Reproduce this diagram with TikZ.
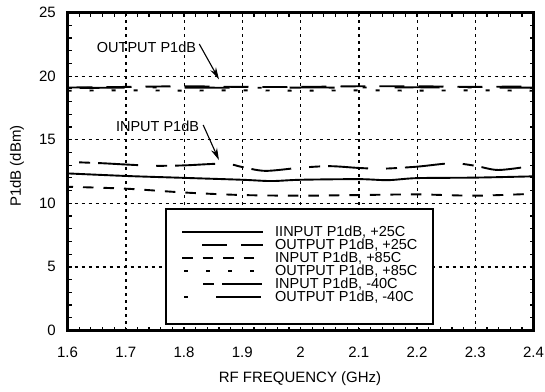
\documentclass[tikz,border=0pt]{standalone}
\usepackage{fontspec}
\setmainfont{Liberation Sans}
\usetikzlibrary{arrows.meta}
\tikzset{
  lbl/.style={font=\fontsize{15}{15}\selectfont, inner sep=0pt},
  txt/.style={font=\fontsize{14.5}{14.5}\selectfont, inner sep=0pt},
  gridln/.style={line width=1.2pt, dash pattern=on 3pt off 4pt},
  frameln/.style={line width=2.4pt},
  tickln/.style={line width=1.2pt},
  curve/.style={line width=1.9pt, line cap=butt, line join=round},
  cin25/.style={curve},
  cout25/.style={curve, dash pattern=on 25pt off 14pt},
  cin85/.style={curve, dash pattern=on 10.5pt off 10pt},
  cout85/.style={curve, dash pattern=on 4pt off 18pt},
  cin40/.style={curve, dash pattern=on 11pt off 8pt on 40pt off 18pt},
  cout40/.style={curve, dash pattern=on 4pt off 28pt on 45pt off 28pt},
  annot/.style={line width=1.1pt, -{Stealth[length=12pt, width=6.5pt]}},
}
\begin{document}
\begin{tikzpicture}[x=1pt, y=-1pt]
\useasboundingbox (0,0) rectangle (545,391);
\fill[white] (0,0) rectangle (545,391);
\begin{scope}[shift={(-864.5,330.5)}, x=582.5pt, y=12.72pt]
  % grid
  \foreach \f in {1.7,1.8,1.9,2.0,2.1,2.2,2.3}
    \draw[gridln] ([xshift=0.3pt]\f,0) -- ([xshift=0.3pt]\f,25);
  \foreach \p in {5,10,15,20}
    \draw[gridln] (1.6,\p) -- (2.4,\p);
  % minor ticks
  \foreach \i in {1,...,39} {
    \pgfmathsetmacro{\xx}{1.6+0.02*\i}
    \draw[tickln] (\xx,0) -- ++(0pt,4pt);
    \draw[tickln] (\xx,25) -- ++(0pt,-4pt);
  }
  \foreach \p in {1,...,24} {
    \draw[tickln] (1.6,\p) -- ++(4pt,0pt);
    \draw[tickln] (2.4,\p) -- ++(-4pt,0pt);
  }
  % curves: output
  \draw[cout85] plot[smooth] coordinates {(1.6,18.85)(1.7,18.88)(1.8,18.86)(1.9,18.88)(2.0,18.85)(2.1,18.88)(2.2,18.86)(2.3,18.88)(2.4,18.85)};
  \draw[cout25] plot[smooth] coordinates {(1.6,19.1)(1.7,19.15)(1.8,19.2)(1.9,19.15)(2.0,19.15)(2.1,19.2)(2.2,19.2)(2.3,19.15)(2.4,19.2)};
  \draw[cout40, dash phase=20pt] plot[smooth] coordinates {(1.6,19.05)(1.7,19.1)(1.8,19.1)(1.9,19.08)(2.0,19.1)(2.1,19.1)(2.2,19.12)(2.3,19.1)(2.4,19.1)};
  % curves: input
  \draw[cin25] plot[smooth, tension=0.5] coordinates {(1.6,12.35)(1.7,12.15)(1.8,12.0)(1.9,11.85)(1.95,11.75)(2.0,11.85)(2.1,11.9)(2.15,11.82)(2.2,11.98)(2.3,12.02)(2.4,12.12)};
  \draw[cin85, dash phase=5pt] plot[smooth, tension=0.5] coordinates {(1.6,11.3)(1.7,11.15)(1.8,10.85)(1.9,10.65)(2.0,10.6)(2.1,10.65)(2.2,10.7)(2.3,10.6)(2.4,10.75)};
  \draw[cin40] plot[smooth, tension=0.5] coordinates {(1.62,13.22)(1.66,13.15)(1.7,13.05)(1.75,12.95)(1.8,12.98)(1.87,13.12)(1.9,12.85)(1.94,12.55)(2.0,12.8)(2.05,12.92)(2.1,12.78)(2.14,12.72)(2.2,12.88)(2.26,13.15)(2.3,12.95)(2.34,12.62)(2.4,12.95)};
  % frame
  \draw[frameln] (1.6,0) rectangle (2.4,25);
  % tick labels
  \foreach \p in {0,5,10,15,20,25}
    \node[lbl, anchor=east] (y\p) at ([xshift=-11.5pt]1.6,\p) {\p};
  \foreach \f/\t in {1.6/1.6,1.7/1.7,1.8/1.8,1.9/1.9,2.0/2,2.1/2.1,2.2/2.2,2.3/2.3,2.4/2.4}
    \node[lbl] (x\t) at ([yshift=-21.5pt]\f,0) {\t};
  % annotation targets
  \coordinate (otip) at (1.86,19.75);
  \coordinate (itip) at (1.86,13.4);
\end{scope}
% axis titles
\node[lbl] (xtitle) at (300,379) {RF FREQUENCY (GHz)};
\node[lbl, rotate=90] (ytitle) at (17,166) {P1dB (dBm)};
% annotations
\node[txt] (otext) at (146.5,47) {OUTPUT P1dB};
\node[txt] (itext) at (157.5,126) {INPUT P1dB};
\draw[annot] (otext.east) ++(3pt,3pt) -- (otip);
\draw[annot] (itext.east) ++(4pt,1pt) -- (itip);
% legend
\node[draw, line width=2pt, fill=white, minimum width=267pt, minimum height=115.5pt, anchor=north west, inner sep=0pt] (legend) at (165,207.5) {};
\foreach \r/\sty/\tx/\xs in {0/cin25/IINPUT P1dB{,} +25C/182,1/cout25/OUTPUT P1dB{,} +25C/202,2/cin85/INPUT P1dB{,} +85C/182,3/cout85/OUTPUT P1dB{,} +85C/184,4/cin40/INPUT P1dB{,} -40C/203,5/cout40/OUTPUT P1dB{,} -40C/184} {
  \coordinate (la\r) at (\xs,232+13*\r);
  \coordinate (lb\r) at (263,232+13*\r);
  \draw[\sty] (la\r) -- (lb\r);
  \node[txt, anchor=west] (lt\r) at (275,232+13*\r) {\tx};
}
\end{tikzpicture}
\end{document}
